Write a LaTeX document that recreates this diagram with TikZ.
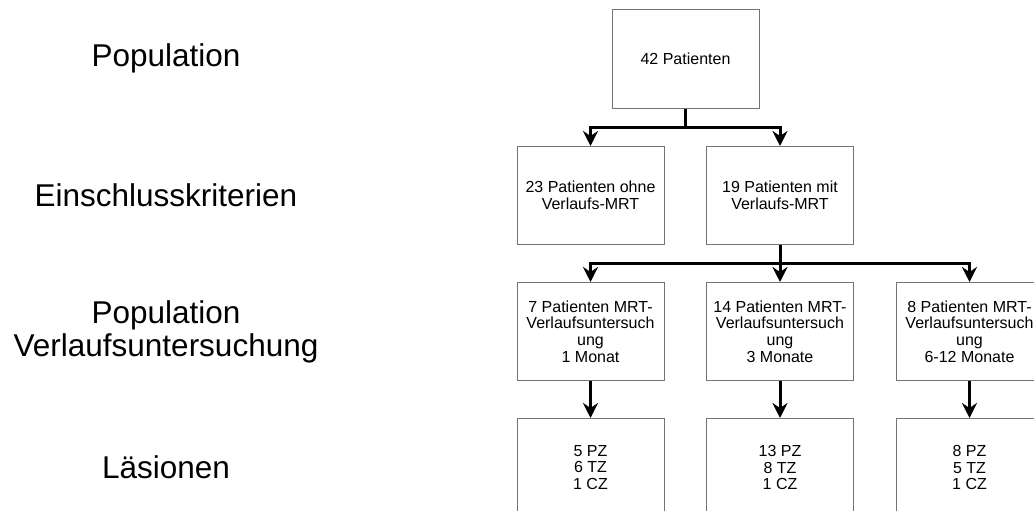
\documentclass[tikz,border=0pt]{standalone}
\usepackage{fontspec}
\setmainfont{Liberation Sans}
\usetikzlibrary{%
  positioning,
  arrows.meta,
}

\begin{document}
\begin{tikzpicture}[
    x=1pt, y=1pt,
    every text node part/.style={align=center},
    node distance=136pt,
    stage/.style={
      % The shape:
      rectangle,
      % The size:
      minimum width=147pt,
      minimum height=98pt,
      inner sep=0pt,
      % The border:
      line width=1pt,
      draw=black!55,
      % The text:
      font=\fontsize{16}{16.7}\selectfont,
    },
    level/.style={
      font=\fontsize{31.5}{33}\selectfont,
    },
    link/.style={
      -{Stealth[length=15pt, width=15pt, inset=5pt]},
      line width=3pt,
      color=black,
    }]

    \useasboundingbox (0,0) rectangle (1034,511);

    % the levels on the left
    \node[level] (lpop) at (166,453) {Population};
    \node[level] (lein) at (166,315.5) {Einschlusskriterien};
    \node[level] (lverl) at (166,179.5) {Population\\Verlaufsuntersuchung};
    \node[level] (llaes) at (166,44) {L\"asionen};

    % the tree
    \node[stage, minimum height=99pt] (all) at (685.5,452.2) {42 Patienten};
    \node[stage] (ohne) at (590.5,315.5) {23 Patienten ohne\\Verlaufs-MRT};
    \node[stage] (mit) [right of=ohne, node distance=189.5pt] {19 Patienten mit\\Verlaufs-MRT};

    \node[stage] (monat) [below of=ohne] {7 Patienten MRT-\\Verlaufsuntersuch\\ung\\1 Monat};
    \node[stage] (drei) [right of=monat, node distance=189.5pt] {14 Patienten MRT-\\Verlaufsuntersuch\\ung\\3 Monate};
    \node[stage] (zwoelf) [right of=drei, node distance=189.5pt] {8 Patienten MRT-\\Verlaufsuntersuch\\ung\\6-12 Monate};

    \node[stage] (laesA) [below of=monat] {5 PZ\\6 TZ\\1 CZ};
    \node[stage] (laesB) [below of=drei] {13 PZ\\8 TZ\\1 CZ};
    \node[stage] (laesC) [below of=zwoelf] {8 PZ\\5 TZ\\1 CZ};

    \draw[link] (all.south) -- ++(0,-19) -| (ohne.north);
    \draw[link] (all.south) -- ++(0,-19) -| (mit.north);

    \draw[link] (mit.south) -- ++(0,-19) -| (monat.north);
    \draw[link] (mit.south) -- (drei.north);
    \draw[link] (mit.south) -- ++(0,-19) -| (zwoelf.north);

    \draw[link] (monat.south) -- (laesA.north);
    \draw[link] (drei.south) -- (laesB.north);
    \draw[link] (zwoelf.south) -- (laesC.north);
  \end{tikzpicture}
\end{document}
